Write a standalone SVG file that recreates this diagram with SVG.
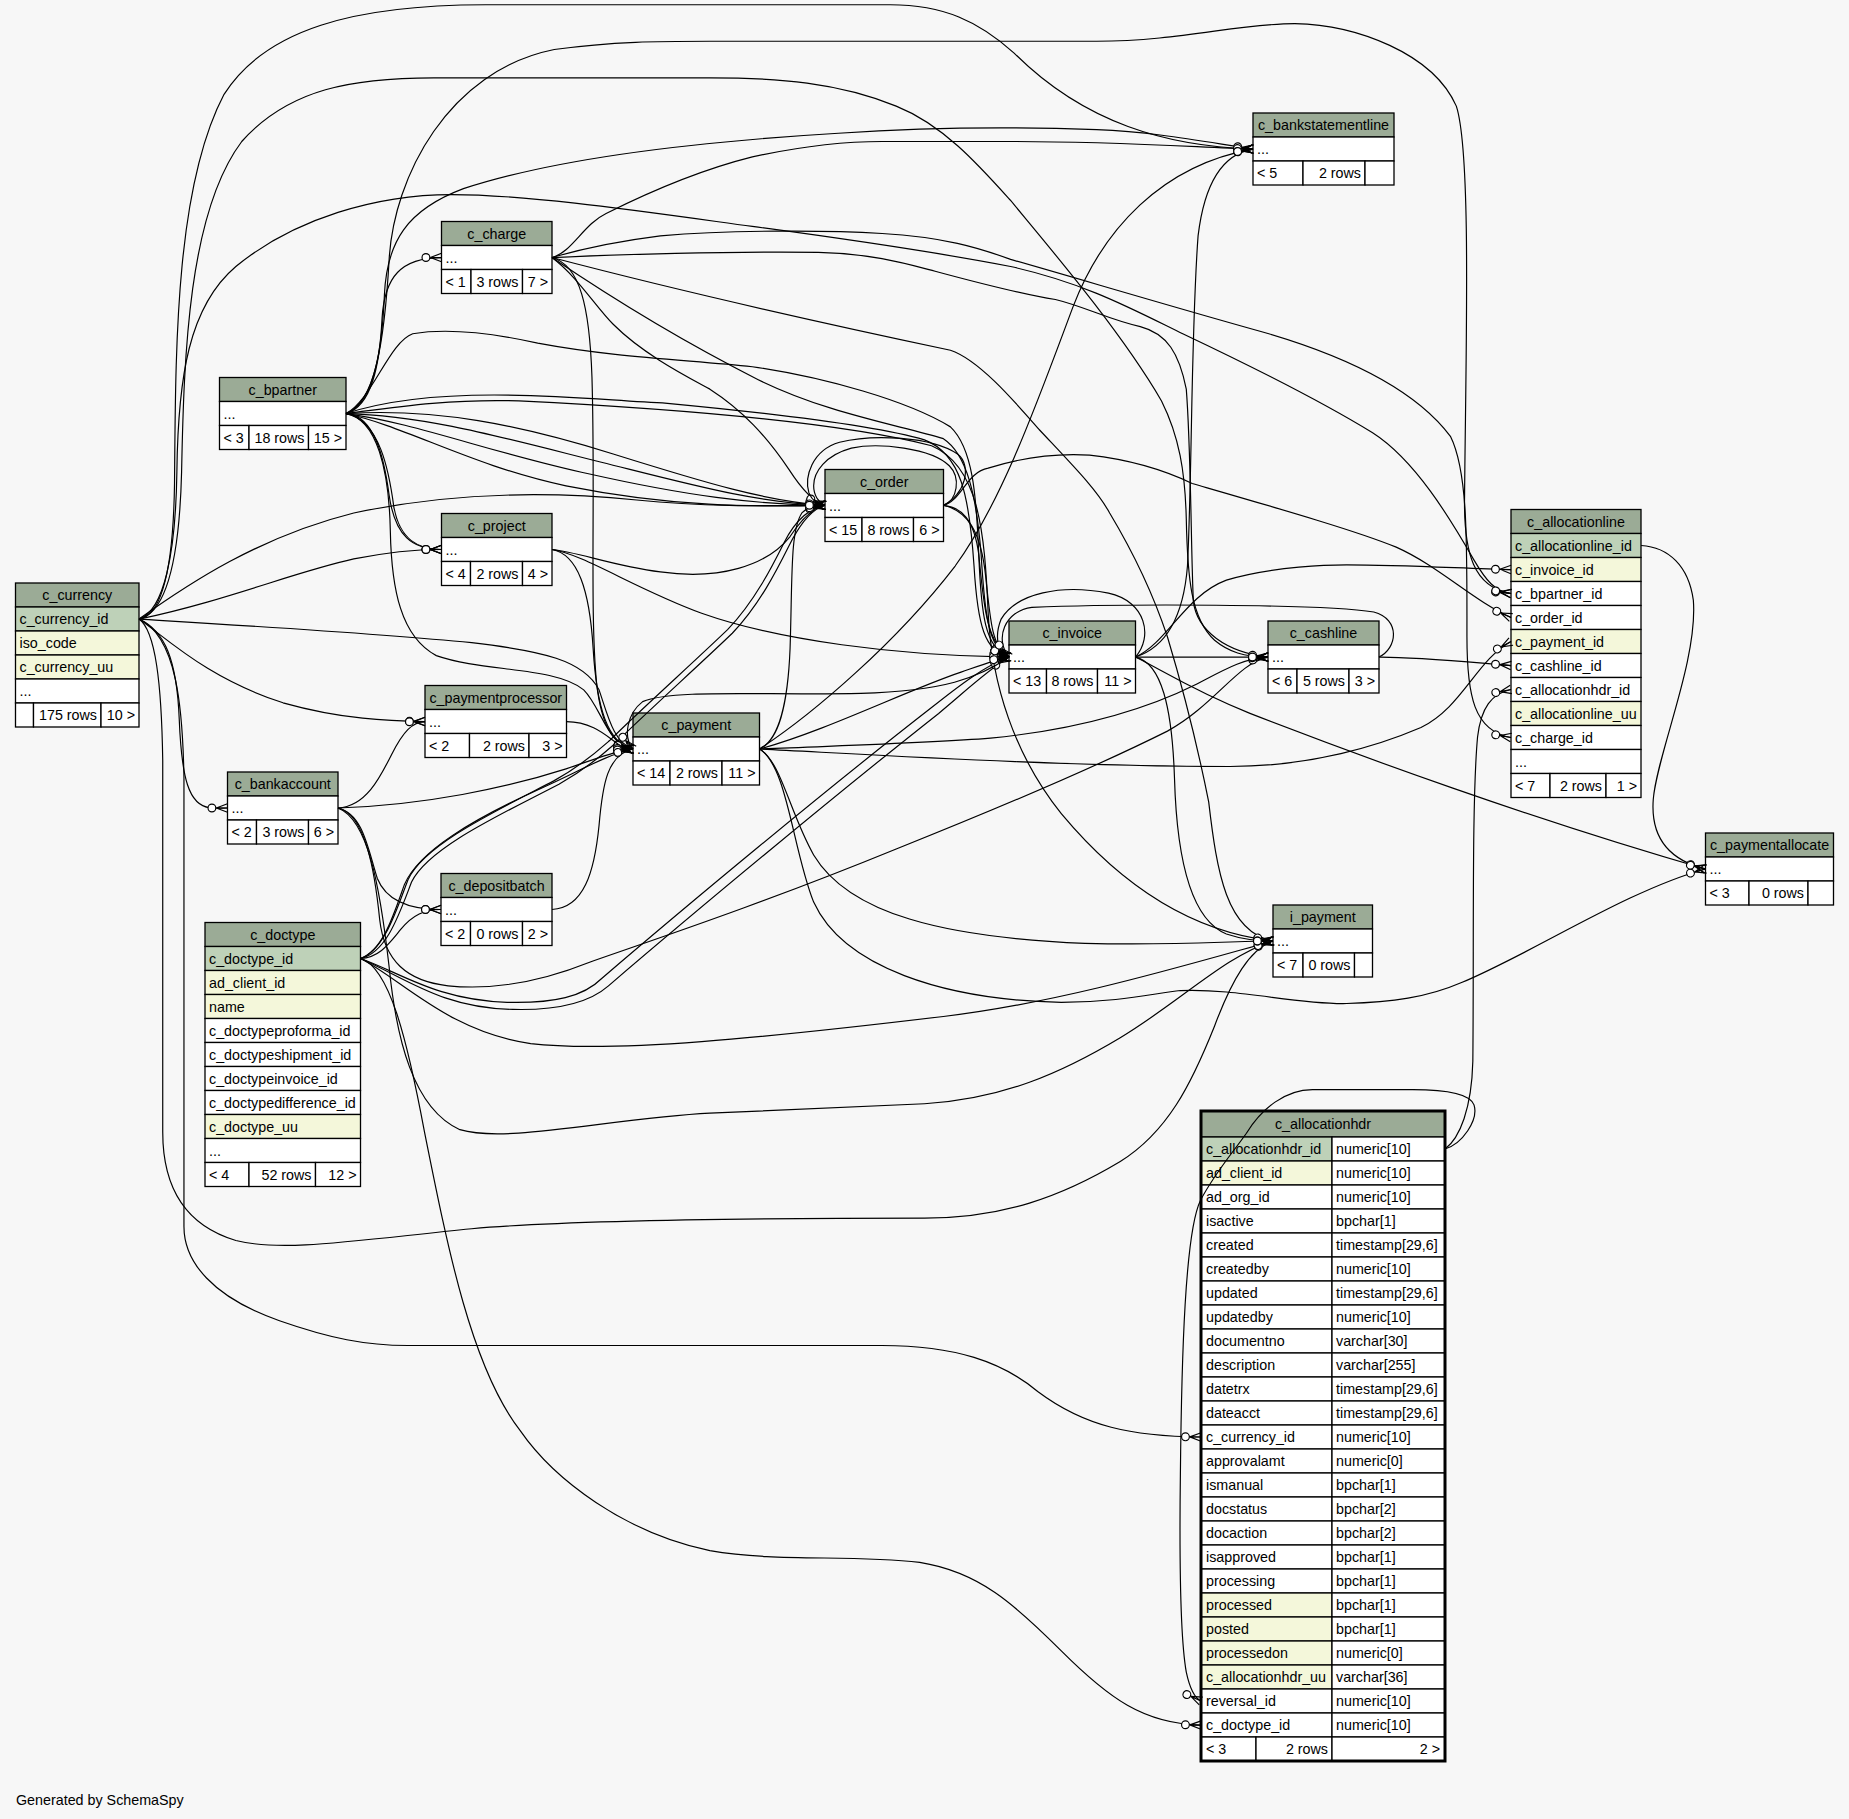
<svg xmlns="http://www.w3.org/2000/svg" width="1849" height="1819" viewBox="0 0 1849 1819">
<style>
.h{fill:#9bab96}
.k{fill:#bed1b8}
.i{fill:#f4f7da}
.w{fill:#ffffff}
rect.c{stroke:#000;stroke-width:1.3}
text{font-family:"Liberation Sans",Arial,Helvetica,sans-serif;font-size:14.3px;fill:#000}
.m{text-anchor:middle}
.e{text-anchor:end}
#connectors path{fill:none;stroke:#000;stroke-width:1;marker-end:url(#crow)}
</style>
<defs>
<marker id="crow" markerUnits="userSpaceOnUse" viewBox="-18 -6 19 12" refX="0" refY="0" markerWidth="19" markerHeight="12" orient="auto">
<path d="M-9.5,0L0,-3.6M-9.5,0L0,0M-9.5,0L0,3.6" fill="none" stroke="#000" stroke-width="1"/>
<circle cx="-13.2" cy="0" r="3.3" fill="#fff" stroke="#000" stroke-width="1"/>
</marker>
</defs>
<rect width="1849" height="1819" fill="#f7f7f7"/>

<g id="c_bankstatementline">
<rect class="c h" x="1253" y="113" width="141" height="24"/><text class="m" x="1323.5" y="130">c_bankstatementline</text>
<rect class="c w" x="1253" y="137" width="141" height="24"/><text x="1257" y="154">...</text>
<rect class="c w" x="1253" y="161" width="50" height="24"/><rect class="c w" x="1303" y="161" width="62" height="24"/><rect class="c w" x="1365" y="161" width="29" height="24"/>
<text x="1257" y="178">&lt; 5</text><text class="e" x="1361" y="178">2 rows</text>
</g>

<g id="c_charge">
<rect class="c h" x="441.5" y="221.5" width="110.5" height="24"/><text class="m" x="496.75" y="238.5">c_charge</text>
<rect class="c w" x="441.5" y="245.5" width="110.5" height="24"/><text x="445.5" y="262.5">...</text>
<rect class="c w" x="441.5" y="269.5" width="29.5" height="24"/><rect class="c w" x="471" y="269.5" width="51.5" height="24"/><rect class="c w" x="522.5" y="269.5" width="29.5" height="24"/>
<text x="445.5" y="286.5">&lt; 1</text><text class="e" x="518.5" y="286.5">3 rows</text><text class="e" x="548" y="286.5">7 &gt;</text>
</g>

<g id="c_bpartner">
<rect class="c h" x="219.5" y="377.5" width="126.5" height="24"/><text class="m" x="282.75" y="394.5">c_bpartner</text>
<rect class="c w" x="219.5" y="401.5" width="126.5" height="24"/><text x="223.5" y="418.5">...</text>
<rect class="c w" x="219.5" y="425.5" width="29.5" height="24"/><rect class="c w" x="249" y="425.5" width="59.5" height="24"/><rect class="c w" x="308.5" y="425.5" width="37.5" height="24"/>
<text x="223.5" y="442.5">&lt; 3</text><text class="e" x="304.5" y="442.5">18 rows</text><text class="e" x="342" y="442.5">15 &gt;</text>
</g>

<g id="c_project">
<rect class="c h" x="441.5" y="513.5" width="110.5" height="24"/><text class="m" x="496.75" y="530.5">c_project</text>
<rect class="c w" x="441.5" y="537.5" width="110.5" height="24"/><text x="445.5" y="554.5">...</text>
<rect class="c w" x="441.5" y="561.5" width="29" height="24"/><rect class="c w" x="470.5" y="561.5" width="52" height="24"/><rect class="c w" x="522.5" y="561.5" width="29.5" height="24"/>
<text x="445.5" y="578.5">&lt; 4</text><text class="e" x="518.5" y="578.5">2 rows</text><text class="e" x="548" y="578.5">4 &gt;</text>
</g>

<g id="c_order">
<rect class="c h" x="825" y="469.5" width="118.5" height="24"/><text class="m" x="884.25" y="486.5">c_order</text>
<rect class="c w" x="825" y="493.5" width="118.5" height="24"/><text x="829" y="510.5">...</text>
<rect class="c w" x="825" y="517.5" width="37" height="24"/><rect class="c w" x="862" y="517.5" width="51.5" height="24"/><rect class="c w" x="913.5" y="517.5" width="30" height="24"/>
<text x="829" y="534.5">&lt; 15</text><text class="e" x="909.5" y="534.5">8 rows</text><text class="e" x="939.5" y="534.5">6 &gt;</text>
</g>

<g id="c_currency">
<rect class="c h" x="15.5" y="583" width="123.5" height="24"/><text class="m" x="77.25" y="600">c_currency</text>
<rect class="c k" x="15.5" y="607" width="123.5" height="24"/><text x="19.5" y="624">c_currency_id</text>
<rect class="c i" x="15.5" y="631" width="123.5" height="24"/><text x="19.5" y="648">iso_code</text>
<rect class="c i" x="15.5" y="655" width="123.5" height="24"/><text x="19.5" y="672">c_currency_uu</text>
<rect class="c w" x="15.5" y="679" width="123.5" height="24"/><text x="19.5" y="696">...</text>
<rect class="c w" x="15.5" y="703" width="18" height="24"/><rect class="c w" x="33.5" y="703" width="67.5" height="24"/><rect class="c w" x="101" y="703" width="38" height="24"/>
<text class="e" x="97" y="720">175 rows</text><text class="e" x="135" y="720">10 &gt;</text>
</g>

<g id="c_invoice">
<rect class="c h" x="1009" y="621" width="126.5" height="24"/><text class="m" x="1072.25" y="638">c_invoice</text>
<rect class="c w" x="1009" y="645" width="126.5" height="24"/><text x="1013" y="662">...</text>
<rect class="c w" x="1009" y="669" width="37.5" height="24"/><rect class="c w" x="1046.5" y="669" width="51" height="24"/><rect class="c w" x="1097.5" y="669" width="38" height="24"/>
<text x="1013" y="686">&lt; 13</text><text class="e" x="1093.5" y="686">8 rows</text><text class="e" x="1131.5" y="686">11 &gt;</text>
</g>

<g id="c_cashline">
<rect class="c h" x="1268" y="621" width="111" height="24"/><text class="m" x="1323.5" y="638">c_cashline</text>
<rect class="c w" x="1268" y="645" width="111" height="24"/><text x="1272" y="662">...</text>
<rect class="c w" x="1268" y="669" width="29" height="24"/><rect class="c w" x="1297" y="669" width="52" height="24"/><rect class="c w" x="1349" y="669" width="30" height="24"/>
<text x="1272" y="686">&lt; 6</text><text class="e" x="1345" y="686">5 rows</text><text class="e" x="1375" y="686">3 &gt;</text>
</g>

<g id="c_allocationline">
<rect class="c h" x="1511" y="509.5" width="130" height="24"/><text class="m" x="1576" y="526.5">c_allocationline</text>
<rect class="c k" x="1511" y="533.5" width="130" height="24"/><text x="1515" y="550.5">c_allocationline_id</text>
<rect class="c i" x="1511" y="557.5" width="130" height="24"/><text x="1515" y="574.5">c_invoice_id</text>
<rect class="c w" x="1511" y="581.5" width="130" height="24"/><text x="1515" y="598.5">c_bpartner_id</text>
<rect class="c w" x="1511" y="605.5" width="130" height="24"/><text x="1515" y="622.5">c_order_id</text>
<rect class="c i" x="1511" y="629.5" width="130" height="24"/><text x="1515" y="646.5">c_payment_id</text>
<rect class="c w" x="1511" y="653.5" width="130" height="24"/><text x="1515" y="670.5">c_cashline_id</text>
<rect class="c w" x="1511" y="677.5" width="130" height="24"/><text x="1515" y="694.5">c_allocationhdr_id</text>
<rect class="c i" x="1511" y="701.5" width="130" height="24"/><text x="1515" y="718.5">c_allocationline_uu</text>
<rect class="c w" x="1511" y="725.5" width="130" height="24"/><text x="1515" y="742.5">c_charge_id</text>
<rect class="c w" x="1511" y="749.5" width="130" height="24"/><text x="1515" y="766.5">...</text>
<rect class="c w" x="1511" y="773.5" width="39" height="24"/><rect class="c w" x="1550" y="773.5" width="56" height="24"/><rect class="c w" x="1606" y="773.5" width="35" height="24"/>
<text x="1515" y="790.5">&lt; 7</text><text class="e" x="1602" y="790.5">2 rows</text><text class="e" x="1637" y="790.5">1 &gt;</text>
</g>

<g id="c_paymentallocate">
<rect class="c h" x="1705.5" y="833" width="128" height="24"/><text class="m" x="1769.5" y="850">c_paymentallocate</text>
<rect class="c w" x="1705.5" y="857" width="128" height="24"/><text x="1709.5" y="874">...</text>
<rect class="c w" x="1705.5" y="881" width="43.5" height="24"/><rect class="c w" x="1749" y="881" width="59" height="24"/><rect class="c w" x="1808" y="881" width="25.5" height="24"/>
<text x="1709.5" y="898">&lt; 3</text><text class="e" x="1804" y="898">0 rows</text>
</g>

<g id="c_paymentprocessor">
<rect class="c h" x="425" y="685.5" width="141.5" height="24"/><text class="m" x="495.75" y="702.5">c_paymentprocessor</text>
<rect class="c w" x="425" y="709.5" width="141.5" height="24"/><text x="429" y="726.5">...</text>
<rect class="c w" x="425" y="733.5" width="44.5" height="24"/><rect class="c w" x="469.5" y="733.5" width="59.5" height="24"/><rect class="c w" x="529" y="733.5" width="37.5" height="24"/>
<text x="429" y="750.5">&lt; 2</text><text class="e" x="525" y="750.5">2 rows</text><text class="e" x="562.5" y="750.5">3 &gt;</text>
</g>

<g id="c_payment">
<rect class="c h" x="633" y="713" width="126.5" height="24"/><text class="m" x="696.25" y="730">c_payment</text>
<rect class="c w" x="633" y="737" width="126.5" height="24"/><text x="637" y="754">...</text>
<rect class="c w" x="633" y="761" width="37" height="24"/><rect class="c w" x="670" y="761" width="52" height="24"/><rect class="c w" x="722" y="761" width="37.5" height="24"/>
<text x="637" y="778">&lt; 14</text><text class="e" x="718" y="778">2 rows</text><text class="e" x="755.5" y="778">11 &gt;</text>
</g>

<g id="c_bankaccount">
<rect class="c h" x="227.5" y="772" width="110.5" height="24"/><text class="m" x="282.75" y="789">c_bankaccount</text>
<rect class="c w" x="227.5" y="796" width="110.5" height="24"/><text x="231.5" y="813">...</text>
<rect class="c w" x="227.5" y="820" width="29" height="24"/><rect class="c w" x="256.5" y="820" width="52" height="24"/><rect class="c w" x="308.5" y="820" width="29.5" height="24"/>
<text x="231.5" y="837">&lt; 2</text><text class="e" x="304.5" y="837">3 rows</text><text class="e" x="334" y="837">6 &gt;</text>
</g>

<g id="c_depositbatch">
<rect class="c h" x="441" y="873.5" width="111" height="24"/><text class="m" x="496.5" y="890.5">c_depositbatch</text>
<rect class="c w" x="441" y="897.5" width="111" height="24"/><text x="445" y="914.5">...</text>
<rect class="c w" x="441" y="921.5" width="29.5" height="24"/><rect class="c w" x="470.5" y="921.5" width="52" height="24"/><rect class="c w" x="522.5" y="921.5" width="29.5" height="24"/>
<text x="445" y="938.5">&lt; 2</text><text class="e" x="518.5" y="938.5">0 rows</text><text class="e" x="548" y="938.5">2 &gt;</text>
</g>

<g id="c_doctype">
<rect class="c h" x="205" y="922.5" width="155.5" height="24"/><text class="m" x="282.75" y="939.5">c_doctype</text>
<rect class="c k" x="205" y="946.5" width="155.5" height="24"/><text x="209" y="963.5">c_doctype_id</text>
<rect class="c i" x="205" y="970.5" width="155.5" height="24"/><text x="209" y="987.5">ad_client_id</text>
<rect class="c i" x="205" y="994.5" width="155.5" height="24"/><text x="209" y="1011.5">name</text>
<rect class="c w" x="205" y="1018.5" width="155.5" height="24"/><text x="209" y="1035.5">c_doctypeproforma_id</text>
<rect class="c w" x="205" y="1042.5" width="155.5" height="24"/><text x="209" y="1059.5">c_doctypeshipment_id</text>
<rect class="c w" x="205" y="1066.5" width="155.5" height="24"/><text x="209" y="1083.5">c_doctypeinvoice_id</text>
<rect class="c w" x="205" y="1090.5" width="155.5" height="24"/><text x="209" y="1107.5">c_doctypedifference_id</text>
<rect class="c i" x="205" y="1114.5" width="155.5" height="24"/><text x="209" y="1131.5">c_doctype_uu</text>
<rect class="c w" x="205" y="1138.5" width="155.5" height="24"/><text x="209" y="1155.5">...</text>
<rect class="c w" x="205" y="1162.5" width="44" height="24"/><rect class="c w" x="249" y="1162.5" width="66.5" height="24"/><rect class="c w" x="315.5" y="1162.5" width="45" height="24"/>
<text x="209" y="1179.5">&lt; 4</text><text class="e" x="311.5" y="1179.5">52 rows</text><text class="e" x="356.5" y="1179.5">12 &gt;</text>
</g>

<g id="i_payment">
<rect class="c h" x="1273" y="905" width="99.5" height="24"/><text class="m" x="1322.75" y="922">i_payment</text>
<rect class="c w" x="1273" y="929" width="99.5" height="24"/><text x="1277" y="946">...</text>
<rect class="c w" x="1273" y="953" width="30" height="24"/><rect class="c w" x="1303" y="953" width="51.5" height="24"/><rect class="c w" x="1354.5" y="953" width="18" height="24"/>
<text x="1277" y="970">&lt; 7</text><text class="e" x="1350.5" y="970">0 rows</text>
</g>

<g id="c_allocationhdr">
<rect class="c h" x="1201" y="1111" width="244" height="26"/><text class="m" x="1323" y="1129">c_allocationhdr</text>
<rect class="c k" x="1201" y="1137" width="131" height="24"/><rect class="c w" x="1332" y="1137" width="113" height="24"/><text x="1206" y="1154">c_allocationhdr_id</text><text x="1336" y="1154">numeric[10]</text>
<rect class="c i" x="1201" y="1161" width="131" height="24"/><rect class="c w" x="1332" y="1161" width="113" height="24"/><text x="1206" y="1178">ad_client_id</text><text x="1336" y="1178">numeric[10]</text>
<rect class="c w" x="1201" y="1185" width="131" height="24"/><rect class="c w" x="1332" y="1185" width="113" height="24"/><text x="1206" y="1202">ad_org_id</text><text x="1336" y="1202">numeric[10]</text>
<rect class="c w" x="1201" y="1209" width="131" height="24"/><rect class="c w" x="1332" y="1209" width="113" height="24"/><text x="1206" y="1226">isactive</text><text x="1336" y="1226">bpchar[1]</text>
<rect class="c w" x="1201" y="1233" width="131" height="24"/><rect class="c w" x="1332" y="1233" width="113" height="24"/><text x="1206" y="1250">created</text><text x="1336" y="1250">timestamp[29,6]</text>
<rect class="c w" x="1201" y="1257" width="131" height="24"/><rect class="c w" x="1332" y="1257" width="113" height="24"/><text x="1206" y="1274">createdby</text><text x="1336" y="1274">numeric[10]</text>
<rect class="c w" x="1201" y="1281" width="131" height="24"/><rect class="c w" x="1332" y="1281" width="113" height="24"/><text x="1206" y="1298">updated</text><text x="1336" y="1298">timestamp[29,6]</text>
<rect class="c w" x="1201" y="1305" width="131" height="24"/><rect class="c w" x="1332" y="1305" width="113" height="24"/><text x="1206" y="1322">updatedby</text><text x="1336" y="1322">numeric[10]</text>
<rect class="c w" x="1201" y="1329" width="131" height="24"/><rect class="c w" x="1332" y="1329" width="113" height="24"/><text x="1206" y="1346">documentno</text><text x="1336" y="1346">varchar[30]</text>
<rect class="c w" x="1201" y="1353" width="131" height="24"/><rect class="c w" x="1332" y="1353" width="113" height="24"/><text x="1206" y="1370">description</text><text x="1336" y="1370">varchar[255]</text>
<rect class="c w" x="1201" y="1377" width="131" height="24"/><rect class="c w" x="1332" y="1377" width="113" height="24"/><text x="1206" y="1394">datetrx</text><text x="1336" y="1394">timestamp[29,6]</text>
<rect class="c w" x="1201" y="1401" width="131" height="24"/><rect class="c w" x="1332" y="1401" width="113" height="24"/><text x="1206" y="1418">dateacct</text><text x="1336" y="1418">timestamp[29,6]</text>
<rect class="c w" x="1201" y="1425" width="131" height="24"/><rect class="c w" x="1332" y="1425" width="113" height="24"/><text x="1206" y="1442">c_currency_id</text><text x="1336" y="1442">numeric[10]</text>
<rect class="c w" x="1201" y="1449" width="131" height="24"/><rect class="c w" x="1332" y="1449" width="113" height="24"/><text x="1206" y="1466">approvalamt</text><text x="1336" y="1466">numeric[0]</text>
<rect class="c w" x="1201" y="1473" width="131" height="24"/><rect class="c w" x="1332" y="1473" width="113" height="24"/><text x="1206" y="1490">ismanual</text><text x="1336" y="1490">bpchar[1]</text>
<rect class="c w" x="1201" y="1497" width="131" height="24"/><rect class="c w" x="1332" y="1497" width="113" height="24"/><text x="1206" y="1514">docstatus</text><text x="1336" y="1514">bpchar[2]</text>
<rect class="c w" x="1201" y="1521" width="131" height="24"/><rect class="c w" x="1332" y="1521" width="113" height="24"/><text x="1206" y="1538">docaction</text><text x="1336" y="1538">bpchar[2]</text>
<rect class="c w" x="1201" y="1545" width="131" height="24"/><rect class="c w" x="1332" y="1545" width="113" height="24"/><text x="1206" y="1562">isapproved</text><text x="1336" y="1562">bpchar[1]</text>
<rect class="c w" x="1201" y="1569" width="131" height="24"/><rect class="c w" x="1332" y="1569" width="113" height="24"/><text x="1206" y="1586">processing</text><text x="1336" y="1586">bpchar[1]</text>
<rect class="c i" x="1201" y="1593" width="131" height="24"/><rect class="c w" x="1332" y="1593" width="113" height="24"/><text x="1206" y="1610">processed</text><text x="1336" y="1610">bpchar[1]</text>
<rect class="c i" x="1201" y="1617" width="131" height="24"/><rect class="c w" x="1332" y="1617" width="113" height="24"/><text x="1206" y="1634">posted</text><text x="1336" y="1634">bpchar[1]</text>
<rect class="c i" x="1201" y="1641" width="131" height="24"/><rect class="c w" x="1332" y="1641" width="113" height="24"/><text x="1206" y="1658">processedon</text><text x="1336" y="1658">numeric[0]</text>
<rect class="c i" x="1201" y="1665" width="131" height="24"/><rect class="c w" x="1332" y="1665" width="113" height="24"/><text x="1206" y="1682">c_allocationhdr_uu</text><text x="1336" y="1682">varchar[36]</text>
<rect class="c w" x="1201" y="1689" width="131" height="24"/><rect class="c w" x="1332" y="1689" width="113" height="24"/><text x="1206" y="1706">reversal_id</text><text x="1336" y="1706">numeric[10]</text>
<rect class="c w" x="1201" y="1713" width="131" height="24"/><rect class="c w" x="1332" y="1713" width="113" height="24"/><text x="1206" y="1730">c_doctype_id</text><text x="1336" y="1730">numeric[10]</text>
<rect class="c w" x="1201" y="1737" width="55" height="24"/><rect class="c w" x="1256" y="1737" width="76" height="24"/><rect class="c w" x="1332" y="1737" width="113" height="24"/>
<text x="1206" y="1754">&lt; 3</text><text class="e" x="1328" y="1754">2 rows</text><text class="e" x="1440" y="1754">2 &gt;</text>
<rect x="1201" y="1111" width="244" height="650" fill="none" stroke="#000" stroke-width="3"/>
</g>

<g id="connectors" transform="scale(1.17921)">
<path d="M117.9,525 C138,522 147,480 148,410 C149,300 148,160 190,80 C225,25 300,4 412,4 L755,4 C800,4 830,18 860,45 C920,105 990,124 1062.6,126.4"/>
<path d="M117.9,525 C140,520 152,480 154,400 C156,300 160,180 205,120 C245,75 300,66 368,66 L602,66 C660,66 711,70 760,90 C800,106 830,140 857,170 C890,210 950,280 985,340 C1000,370 1005,400 1006,440 C1007,490 1010,525 1030,543 C1042,553 1055,557 1075.3,557.2"/>
<path d="M117.9,525 C139,518 149,470 150,400 C151,320 160,260 200,226 C250,185 320,165 383,165 C450,165 550,180 638,192 C720,203 800,215 857,226 C920,240 960,262 1003,283 C1060,310 1120,340 1164,367 C1200,390 1230,440 1250,475 C1260,492 1268,502 1281.4,503.3"/>
<path d="M117.9,525 C160,495 220,455 300,435 C380,418 460,416 540,424 C600,430 650,429 699.6,428.5"/>
<path d="M117.9,525 C190,510 250,485 300,474 C330,468 350,466 374.4,466"/>
<path d="M117.9,525 C200,530 320,537 400,545 C460,552 495,560 508,585 C515,605 520,630 536.8,635.2"/>
<path d="M117.9,525 C140,540 175,575 240,596 C290,610 330,611.5 360.4,611.9"/>
<path d="M117.9,525 C140,535 150,560 152,610 C154,660 160,683 178,685 C183,685.5 188,685.2 192.9,685.2"/>
<path d="M117.9,525 C132,535 137,580 138,645 L138,960 C138,1010 160,1040 200,1052 C240,1062 300,1052 400,1042 C500,1033 700,1033 784,1033 C850,1033 900,1015 950,985 C990,960 1010,920 1030,870 C1045,830 1060,805 1079.5,798"/>
<path d="M117.9,525 C150,540 155,600 156,660 L156,1040 C156,1070 180,1100 237,1120 C280,1135 310,1141 346,1141 L748,1141 C810,1141 850,1155 880,1180 C920,1210 960,1218 1018.5,1218.6"/>
<path d="M305.7,812.8 C322,812 330,800 340,788 C350,776 360,771.3 374,771.3"/>
<path d="M305.7,812.8 C325,806 334,775 343,750 C355,722 400,695 460,668 C495,652 515,640 536.8,635.2"/>
<path d="M305.7,812.8 C326,806 336,772 346,746 C360,716 420,688 470,662 C495,648 508,636 517,628 C540,605 590,560 617,534 C640,510 655,480 665,460 C675,440 688,430 699.6,428.5"/>
<path d="M305.7,812.8 C328,808 339,774 349,748 C363,719 424,691 474,665 C499,651 512,639 521,631 C544,608 594,563 621,537 C644,513 659,483 669,463 C679,443 690,431 699.6,428.5"/>
<path d="M305.7,812.8 C340,825 370,848 430,850 C470,851 495,845 510,830 C580,770 700,670 790,600 C815,580 835,565 855.7,557.2"/>
<path d="M305.7,812.8 C345,830 375,855 435,856 C475,857 500,850 516,836 C586,776 706,676 796,605 C820,585 838,568 855.7,557.2"/>
<path d="M305.7,812.8 C340,830 380,875 450,885 C520,893 650,880 800,862 C900,850 1000,820 1079.5,798"/>
<path d="M305.7,812.8 C330,820 345,880 360,960 C380,1060 400,1160 441,1213 C470,1255 530,1300 602,1315 C660,1325 720,1318 780,1325 C830,1333 860,1360 900,1400 C940,1440 970,1462 1018.5,1462.9"/>
<path d="M293.4,350.7 C315,345 322,310 324,270 C326,235 340,218.4 374.4,218.4"/>
<path d="M293.4,350.7 C316,343 324,300 326,250 C328,205 345,178 393,160 C460,138 560,122 711,113 C800,107 880,108 930,110 C980,112 1020,120 1062.6,126.4"/>
<path d="M293.4,350.7 C318,342 326,290 330,220 C334,150 380,60 470,42 C520,35 560,35 602,35 L930,35 C1000,35 1050,20 1098,20 C1150,21 1215,45 1235,90 C1248,130 1243,300 1242,420 C1241,470 1250,498 1281.4,503.3"/>
<path d="M293.4,350.7 C318,352 326,390 330,420 C335,455 350,466 374.4,466"/>
<path d="M293.4,350.7 C322,356 330,400 334,430 C339,458 355,466 374.4,466"/>
<path d="M293.4,350.7 C360,352 430,372 510,392 C590,412 640,426 699.6,428.5"/>
<path d="M293.4,350.7 C350,358 420,385 500,402 C580,420 640,428 699.6,428.5"/>
<path d="M293.4,350.7 C345,362 400,395 480,412 C570,430 640,430 699.6,428.5"/>
<path d="M293.4,350.7 C370,346 440,360 520,385 C600,410 650,425 699.6,428.5"/>
<path d="M293.4,350.7 C320,355 330,400 331,450 C332,500 340,540 370,556 C410,570 470,565 495,585 C510,600 515,632 536.8,635.2"/>
<path d="M293.4,350.7 C315,340 330,290 350,283 C380,278 420,283 456,291 C520,303 580,305 638,311 C700,320 770,340 806,362 C825,380 828,420 830,470 C832,520 835,550 855.7,557.2"/>
<path d="M293.4,350.7 C320,342 360,335 419,335 C480,335 520,340 566,342 C650,350 740,360 784,373 C815,385 822,420 826,480 C829,530 835,553 855.7,557.2"/>
<path d="M293.4,350.7 C330,346 380,338 440,340 C540,345 700,355 790,378 C830,395 835,450 838,520 C841,580 860,640 900,690 C950,750 1010,790 1079.5,798"/>
<path d="M468.1,218.4 C485,214 495,190 514,181 C540,168 590,145 638,133 C680,124 720,120 748,120 L857,120 C940,120 1000,124 1062.6,126.4"/>
<path d="M468.1,218.4 C490,212 520,205 560,200 C620,195 700,195 748,198 C800,201 830,210 857,220 C900,232 1000,262 1076,283 C1140,302 1200,330 1230,370 C1245,400 1244,460 1244,540 C1244,590 1250,620 1281.4,625.4"/>
<path d="M468.1,218.4 C520,216 620,213 694,214 C740,215 770,224 793,230 C830,240 870,250 895,254 C920,260 940,271 967,277 C990,283 1000,300 1006,330 C1010,380 1010,470 1012,510 C1015,535 1040,553 1075.3,557.2"/>
<path d="M468.1,218.4 C520,232 640,262 806,297 C830,305 860,340 881,364 C910,395 930,415 941,435 C965,475 980,510 990,540 C1005,590 1015,630 1025,680 C1032,740 1040,790 1079.5,798"/>
<path d="M468.1,218.4 C500,240 560,280 643,322 C700,350 760,360 800,372 C820,385 828,420 832,470 C835,520 838,550 855.7,557.2"/>
<path d="M468.1,218.4 C490,235 505,260 520,275 C545,300 580,318 602,330 C630,348 650,370 669,398 C680,415 690,426 699.6,428.5"/>
<path d="M468.1,218.4 C492,225 500,260 502,320 C505,420 500,520 506,580 C510,615 520,632 536.8,635.2"/>
<path d="M468.1,466 C490,468 520,480 560,485 C610,492 650,480 670,455 C680,440 690,430 699.6,428.5"/>
<path d="M468.1,466 C495,470 540,500 595,520 C660,543 760,556 855.7,557.2"/>
<path d="M468.1,466 C490,470 500,500 503,550 C506,600 515,630 536.8,635.2"/>
<path d="M480.4,611.9 C500,612 512,622 520,628 C526,633 530,635 536.8,635.2"/>
<path d="M286.6,685.2 C310,684 322,660 332,640 C342,620 350,612 360.4,611.9"/>
<path d="M286.6,685.2 C360,683 430,668 480,652 C510,642 525,636 536.8,635.2"/>
<path d="M286.6,685.2 C308,690 312,720 320,745 C328,765 350,771.3 374,771.3"/>
<path d="M286.6,685.2 C310,690 318,740 322,780 C326,815 345,832 380,836 C420,840 460,832 500,816 C560,795 650,765 760,720 C840,688 930,650 990,620 C1030,598 1050,562 1075.3,557.2"/>
<path d="M286.6,685.2 C312,695 322,750 330,820 C336,880 350,940 390,958 C430,970 520,948 602,944 C680,940 740,938 784,936 C850,932 900,910 950,880 C1000,850 1040,810 1079.5,798"/>
<path d="M468.1,771.3 C495,770 504,740 508,700 C511,665 515,640 536.8,635.2"/>
<path d="M800.1,428.5 C812,424 815,405 805,395 C790,380 745,375 722,380 C700,386 690,400 690,412 C690,420 694,426 699.6,428.5"/>
<path d="M800.1,428.5 C818,420 825,395 812,385 C790,370 740,368 712,375 C688,382 682,405 686,418 C689,425 694,428 699.6,428.5"/>
<path d="M800.1,428.5 C815,430 826,440 830,470 C834,510 836,545 855.7,557.2"/>
<path d="M800.1,428.5 C820,433 832,450 836,490 C840,530 842,550 855.7,557.2"/>
<path d="M800.1,428.5 C815,425 820,400 838,397 C860,390 890,384 924,386 C960,390 990,400 1011,410 C1080,430 1150,450 1184,464 C1220,480 1250,510 1281.4,523.6"/>
<path d="M644.1,635.2 C690,605 760,545 810,480 C850,425 880,340 910,260 C935,195 985,140 1062.6,126.4"/>
<path d="M644.1,635.2 C660,628 668,600 670,550 C672,490 670,450 680,435 C686,429 692,428.5 699.6,428.5"/>
<path d="M644.1,635.2 C700,620 770,585 815,570 C832,564 845,559 855.7,557.2"/>
<path d="M644.1,635.2 C720,632 790,630 840,626 C920,618 975,600 1015,580 C1038,568 1055,558 1075.3,557.2"/>
<path d="M644.1,635.2 C740,640 900,650 1043,650 C1113,650 1170,632 1205,617 C1240,600 1252,560 1281.4,544"/>
<path d="M644.1,635.2 C662,645 670,690 690,725 C720,775 800,795 920,800 C1000,802 1040,798 1079.5,798"/>
<path d="M644.1,635.2 C668,650 672,720 690,765 C715,820 800,848 900,850 C950,850 980,842 1001,840 C1050,838 1100,852 1142,851 C1180,850 1210,846 1240,833 C1300,808 1380,755 1446.3,736.9"/>
<path d="M855.7,557.2 C830,575 800,586 730,588 C650,590 570,584 545,595 C532,605 528,625 536.8,635.2"/>
<path d="M962.9,557.2 C985,550 1003,530 1007,480 C1011,400 1010,280 1016,200 C1022,150 1040,130 1062.6,126.4"/>
<path d="M962.9,557.2 L1075.3,557.2"/>
<path d="M962.9,557.2 C985,562 994,600 996,660 C998,730 1010,780 1040,792 C1055,797 1067,798 1079.5,798"/>
<path d="M962.9,557.2 C985,568 1010,585 1060,605 C1150,640 1300,695 1446.3,736.9"/>
<path d="M962.9,557.2 C990,545 1005,505 1040,492 C1080,480 1130,479 1142,479 C1190,479 1240,482 1281.4,483"/>
<path d="M962.9,557.2 C978,540 972,510 940,503 C900,495 862,503 849,525 C843,540 846,553 855.7,557.2"/>
<path d="M1169.4,557.2 C1185,550 1188,525 1165,519 C1120,512 950,512 875,515 C852,518 843,542 855.7,557.2"/>
<path d="M1169.4,557.2 C1200,557 1240,561 1281.4,564.4"/>
<path d="M1391.7,462.6 C1415,464 1432,480 1436,509 C1440,560 1405,640 1402,678 C1400,705 1410,728 1446.3,736.9"/>
<path d="M1225.4,974.4 C1238,965 1248,940 1249,900 C1250,800 1248,680 1253,625 C1256,600 1265,588 1281.4,584.7"/>
<path d="M1225.4,974.4 C1240,970 1254,950 1250,937 C1246,926 1220,924 1198,924 L1113,924 C1090,924 1070,940 1057,961 C1045,978 1030,995 1018,1018 C1005,1045 1002,1150 1001,1250 C1000,1330 1001,1390 1006,1418 C1009,1432 1013,1440 1018.5,1442.5"/>
</g>

<text x="16" y="1805">Generated by SchemaSpy</text>
</svg>
